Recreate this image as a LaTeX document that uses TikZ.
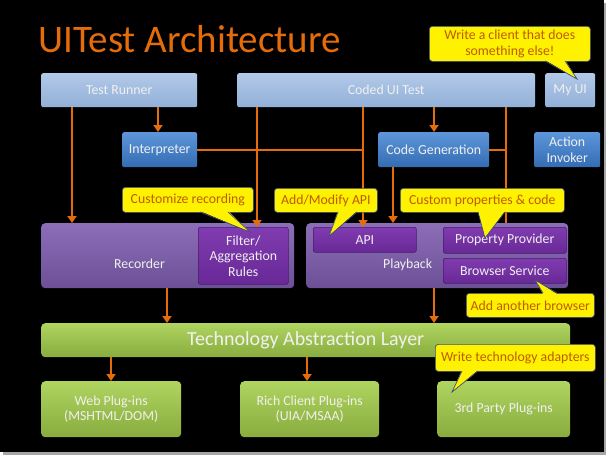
\documentclass[tikz,border=0pt]{standalone}
\usepackage{fontspec}
\setmainfont{Carlito}
\usetikzlibrary{arrows.meta}
\definecolor{uiorange}{RGB}{228,108,10}
\definecolor{lightA}{RGB}{178,201,232}
\definecolor{lightB}{RGB}{146,176,216}
\definecolor{darkA}{RGB}{92,150,216}
\definecolor{darkB}{RGB}{52,108,180}
\definecolor{purA}{RGB}{140,110,184}
\definecolor{purB}{RGB}{108,80,150}
\definecolor{inA}{RGB}{128,60,176}
\definecolor{inB}{RGB}{104,40,150}
\definecolor{grnA}{RGB}{176,212,96}
\definecolor{grnB}{RGB}{136,172,62}
\definecolor{calloutline}{RGB}{60,80,120}
\definecolor{callouttext}{RGB}{190,90,0}
\begin{document}
\begin{tikzpicture}[x=1pt,y=-1pt,
	box/.style={anchor=north west,rounded corners=2pt,align=center,text=white!94!black,inner sep=1pt,font=\fontsize{13.8}{15.5}\selectfont},
	light/.style={box,top color=lightA,bottom color=lightB},
	dark/.style={box,top color=darkA,bottom color=darkB},
	purp/.style={box,top color=purA,bottom color=purB,rounded corners=4pt},
	inner/.style={box,top color=inA,bottom color=inB,draw=inB!70!black,line width=0.6pt},
	plug/.style={box,top color=grnA,bottom color=grnB,rounded corners=4pt},
	callout/.style={anchor=north west,rounded corners=3pt,fill=yellow,draw=calloutline,line width=0.7pt,text=callouttext,align=center,inner sep=1pt,font=\fontsize{13.8}{15.5}\selectfont},
	wire/.style={draw=uiorange,line width=2.4pt},
	arr/.style={wire,-{Triangle[width=9pt,length=7pt]}}]
	% page with shadow
	\fill[white] (0,0) rectangle (609,458);
	\fill[black!35] (3,3) rectangle (606,455);
	\fill[black] (0,0) rectangle (604,452);
	\node[anchor=base west,text=uiorange,font=\fontsize{39}{43}\selectfont,inner sep=0pt] (title) at (38,52) {UITest Architecture};
	% clients
	\node[light,minimum width=156pt,minimum height=34pt] (runner) at (41,73) {Test Runner};
	\node[light,minimum width=298pt,minimum height=34pt] (coded) at (237,73) {Coded UI Test};
	\node[light,minimum width=50pt,minimum height=34pt] (myui) at (545,73) {My UI};
	\node[dark,minimum width=75pt,minimum height=35pt] (interp) at (122,132) {Interpreter};
	\node[dark,minimum width=111pt,minimum height=35pt] (codegen) at (378,132) {Code Generation};
	\node[dark,minimum width=66pt,minimum height=35pt] (invoker) at (534,132) {Action\\Invoker};
	% recorder and playback
	\node[purp,minimum width=253pt,minimum height=65pt] (recorder) at (41,223) {};
	\node[box] (reclbl) at (113,258) {Recorder};
	\node[inner,minimum width=90pt,minimum height=57pt] (filter) at (198,227) {Filter/\\Aggregation\\Rules};
	\node[purp,minimum width=262pt,minimum height=65pt] (playback) at (306,223) {};
	\node[box] (playlbl) at (382,258) {Playback};
	\node[inner,minimum width=103pt,minimum height=25pt] (api) at (313,227) {API};
	\node[inner,minimum width=123pt,minimum height=26pt] (propprov) at (443,227) {Property Provider};
	\node[inner,minimum width=123pt,minimum height=25pt] (browser) at (443,258) {Browser Service};
	% technology layer
	\node[plug,minimum width=529pt,minimum height=34pt,font=\fontsize{20}{22}\selectfont] (tal) at (41,323) {Technology Abstraction Layer};
	\node[plug,minimum width=140pt,minimum height=56pt] (web) at (41,381) {Web Plug-ins\\(MSHTML/DOM)};
	\node[plug,minimum width=139pt,minimum height=56pt] (rich) at (240,381) {Rich Client Plug-ins\\(UIA/MSAA)};
	\node[plug,minimum width=133pt,minimum height=56pt] (third) at (437,381) {3rd Party Plug-ins};
	% orange wiring
	\foreach \nm/\xx in {xa/72,xb/158,xc/257,xd/363,xe/434,xf/506,xg/393,xh/167,xi/111,xj/307}
	\coordinate (\nm) at (\xx,0);
	\draw[arr] (runner.south -| xa) -- (recorder.north -| xa);
	\draw[arr] (runner.south -| xb) -- (interp.north -| xb);
	\draw[arr] (coded.south -| xc) -- (filter.north -| xc);
	\draw[arr] (coded.south -| xd) -- (api.north -| xd);
	\draw[arr] (coded.south -| xe) -- (codegen.north -| xe);
	\draw[wire] (coded.south -| xf) -- (recorder.north -| xf);
	\draw[wire] (interp.east) -- (interp.east -| xd);
	\draw[wire] (codegen.east) -- (codegen.east -| xf);
	\draw[arr] (codegen.south -| xg) -- (playback.north -| xg);
	\draw[arr] (recorder.south -| xh) -- (tal.north -| xh);
	\draw[arr] (playback.south -| xe) -- (tal.north -| xe);
	\draw[arr] (tal.south -| xi) -- (web.north -| xi);
	\draw[arr] (tal.south -| xj) -- (rich.north -| xj);
	% callouts
	\node[callout,minimum width=161pt,minimum height=35pt] (cclient) at (429,26) {Write a client that does\\something else!};
	\node[callout,minimum width=131pt,minimum height=25pt] (crec) at (122,187) {Customize recording};
	\node[callout,minimum width=103pt,minimum height=24pt] (capi) at (274,188) {Add/Modify API};
	\node[callout,minimum width=164pt,minimum height=24pt] (ccustom) at (400,188) {Custom properties \& code};
	\node[callout,minimum width=128pt,minimum height=24pt] (cbrowser) at (466,293) {Add another browser};
	\node[callout,minimum width=160pt,minimum height=27pt] (ctech) at (435,344) {Write technology adapters};
	\foreach \ax/\ay/\tx/\ty/\bx/\by/\dy in {545/61/577/79/565/61/-1,200/212/250/232/228/212/-1,338/212/329/236/357/212/-1,
		478/212/485/238/505/212/-1,543/293/535/280/557/293/1,462/371/452/392/478/371/-1}
	{
		\fill[yellow] (\ax,\ay+\dy) -- (\tx,\ty) -- (\bx,\by+\dy) -- cycle;
		\draw[calloutline,line width=0.7pt] (\ax,\ay) -- (\tx,\ty) -- (\bx,\by);
	}
\end{tikzpicture}
\end{document}
